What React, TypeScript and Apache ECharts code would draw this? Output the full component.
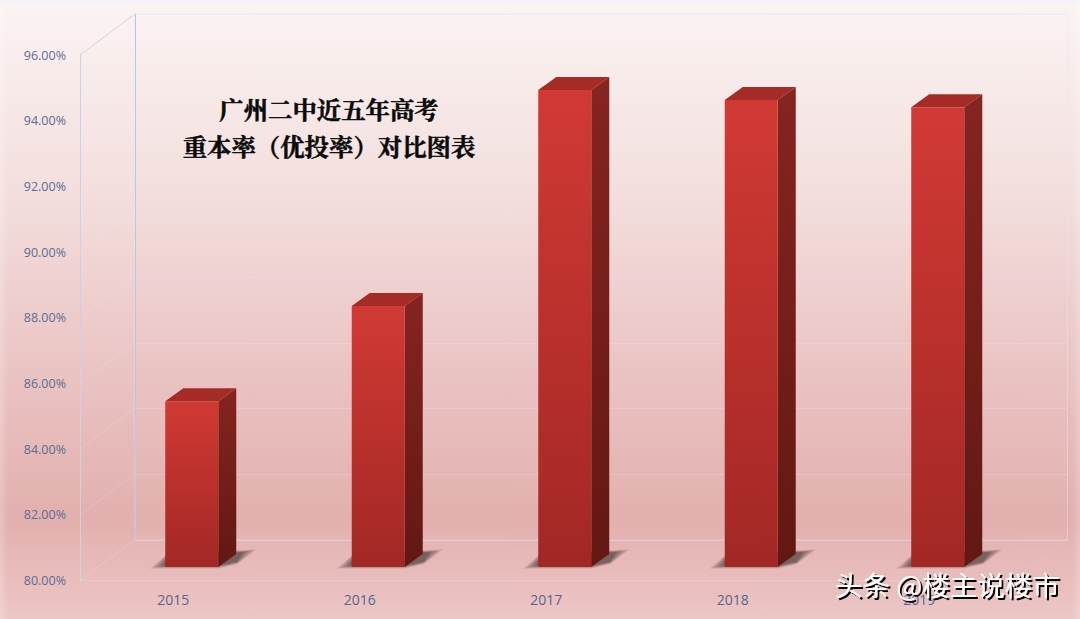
import React, { useEffect, useRef } from "react";
import * as echarts from "echarts";

const years = ["2015", "2016", "2017", "2018", "2019"];
const rates = [85.05, 87.95, 94.52, 94.22, 94.0];
const gridTicks = [80, 82, 84, 86, 88, 90, 92, 94, 96];
const titleText = "广州二中近五年高考\n重本率（优投率）对比图表";
const watermark = "头条 @楼主说楼市";

const W = 1080;
const H = 619;
const wallDX = 55;
const wallDY = 41;
const barDX = 18.5;
const barDY = 13.5;
const barW = 53;
const depthX = 18;
const depthY = 13;
const wallLine = "rgba(226,230,244,0.3)";

function grad(stops: [number, string][], horizontal = false) {
  return new echarts.graphic.LinearGradient(0, 0, horizontal ? 1 : 0, horizontal ? 0 : 1,
    stops.map(([offset, color]) => ({ offset, color })));
}

function shadowLayer(x0: number, x1: number, yB: number, inset: number, alpha: number) {
  return {
    type: "polygon",
    shape: {
      points: [
        [x0 - 15 + inset * 1.6, yB + 1.5 - inset * 0.35],
        [x0 + 2, yB - 13 + inset * 0.3],
        [x1 + 38 - inset * 1.6, yB - 17.5 + inset * 0.35],
        [x1 + 19, yB - 3 - inset * 0.3],
        [x1, yB + 1.5 - inset * 0.35],
      ],
    },
    style: { fill: `rgba(60,45,45,${alpha})` },
  };
}

function renderBar(params: any, api: any) {
  const top = api.coord([api.value(0), api.value(1)]);
  const base = api.coord([api.value(0), 80]);
  const x0 = top[0] + barDX - barW / 2;
  const x1 = x0 + barW;
  const yT = top[1] - barDY;
  const yB = base[1] - barDY;
  return {
    type: "group",
    children: [
      shadowLayer(x0, x1, yB, 0, 0.14),
      shadowLayer(x0, x1, yB, 2, 0.16),
      shadowLayer(x0, x1, yB, 4, 0.18),
      shadowLayer(x0, x1, yB, 6, 0.2),
      shadowLayer(x0, x1, yB, 8, 0.22),
      {
        type: "polygon",
        shape: { points: [[x1, yT], [x1 + depthX, yT - depthY], [x1 + depthX, yB - depthY], [x1, yB]] },
        style: { fill: grad([[0, "#862420"], [1, "#621813"]]) },
      },
      {
        type: "polygon",
        shape: { points: [[x0, yT], [x0 + depthX, yT - depthY], [x1 + depthX, yT - depthY], [x1, yT]] },
        style: { fill: "#a52b27" },
      },
      {
        type: "rect",
        shape: { x: x0, y: yT, width: barW, height: yB - yT },
        style: { fill: grad([[0, "#d13a34"], [0.5, "#ba302c"], [1, "#a22825"]]) },
      },
    ],
  };
}

function renderWall(params: any, api: any) {
  const cs = params.coordSys;
  const v = api.value(0);
  const y = api.coord([0, v])[1];
  const lines: any[] = [
    {
      type: "line",
      shape: { x1: cs.x, y1: y, x2: cs.x + wallDX, y2: y - wallDY },
      style: { stroke: v === 96 ? "#ccd6ec" : wallLine, lineWidth: 1 },
    },
  ];
  if (v === 80) {
    lines.push({
      type: "line",
      shape: { x1: cs.x + cs.width, y1: y, x2: cs.x + cs.width + wallDX, y2: y - wallDY },
      style: { stroke: "rgba(226,230,244,0.15)", lineWidth: 1 },
    });
  }
  return { type: "group", children: lines };
}

export default function App() {
  const ref = useRef<HTMLDivElement>(null);
  useEffect(() => {
    const chart = echarts.init(ref.current!, undefined, { renderer: "svg", width: W, height: H });
    chart.setOption({
      animation: false,
      backgroundColor: grad([
        [0, "#fbf4f3"],
        [0.32, "#f3dedd"],
        [0.62, "#e9c2c1"],
        [0.84, "#e2b0ae"],
        [1, "#edc6c6"],
      ]),
      title: {
        text: titleText,
        left: 324,
        top: 85,
        textAlign: "center",
        textStyle: {
          fontFamily: '"Noto Serif CJK SC", SimSun, serif',
          fontSize: 24.4,
          fontWeight: "bold",
          lineHeight: 37,
          color: "#0a0a0a",
          textBorderColor: "#0a0a0a",
          textBorderWidth: 0.5,
        },
      },
      grid: [
        { left: 80, top: 55, width: 932.5, height: 525.5 },
        { left: 135, top: 14, width: 932.5, height: 526, show: true, borderColor: "rgba(226,230,244,0.45)", borderWidth: 1, backgroundColor: "transparent" },
      ],
      xAxis: [
        {
          gridIndex: 0,
          type: "category",
          data: years,
          axisTick: { show: false },
          axisLine: { lineStyle: { color: "rgba(226,230,244,0.25)" } },
          axisLabel: { color: "#55678f", fontSize: 14, fontFamily: '"Open Sans"', margin: 12 },
        },
        { gridIndex: 1, type: "category", data: years, show: false },
      ],
      yAxis: [
        {
          gridIndex: 0,
          type: "value",
          min: 80,
          max: 96,
          interval: 2,
          splitLine: { show: false },
          axisTick: { show: false },
          axisLine: { show: true, lineStyle: { color: "#c8d3ea" } },
          axisLabel: {
            color: "#5c6d92",
            fontSize: 12.5,
            fontFamily: '"Open Sans"',
            margin: 14,
            padding: [4, 0, 0, 0],
            formatter: (v: number) => v.toFixed(2) + "%",
          },
        },
        {
          gridIndex: 1,
          type: "value",
          min: 80,
          max: 96,
          interval: 2,
          splitLine: { show: true, lineStyle: { color: wallLine, width: 1 } },
          axisTick: { show: false },
          axisLabel: { show: false },
          axisLine: { show: true, lineStyle: { color: "#b9c7e2" } },
        },
      ],
      series: [
        {
          type: "custom",
          name: "wall",
          xAxisIndex: 0,
          yAxisIndex: 0,
          silent: true,
          clip: false,
          z: 1,
          data: gridTicks.map((v) => [v]),
          encode: { y: 0 },
          renderItem: renderWall,
        },
        {
          type: "custom",
          name: "重本率",
          xAxisIndex: 0,
          yAxisIndex: 0,
          clip: false,
          z: 3,
          data: rates.map((v, i) => [i, v]),
          encode: { x: 0, y: 1 },
          renderItem: renderBar,
        },
      ],
      graphic: [
        {
          type: "rect",
          silent: true,
          z: 0,
          shape: { x: 0, y: 0, width: 8, height: H },
          style: { fill: grad([[0, "rgba(255,255,255,0.22)"], [1, "rgba(255,255,255,0)"]], true) },
        },
        {
          type: "rect",
          silent: true,
          z: 0,
          shape: { x: W - 8, y: 0, width: 8, height: H },
          style: { fill: grad([[0, "rgba(255,255,255,0)"], [1, "rgba(255,255,255,0.2)"]], true) },
        },
        {
          type: "rect",
          silent: true,
          z: 0,
          shape: { x: 0, y: 0, width: W, height: 6 },
          style: { fill: grad([[0, "rgba(240,240,252,0.7)"], [1, "rgba(240,240,252,0)"]]) },
        },
        {
          type: "text",
          z: 100,
          x: 835,
          y: 570,
          style: {
            text: watermark,
            fontFamily: '"Noto Sans CJK SC"',
            fontSize: 27.5,
            fill: "#ffffff",
            textShadowColor: "#000000",
            textShadowBlur: 1,
            textShadowOffsetX: 2,
            textShadowOffsetY: 2,
          },
        },
      ],
    });
    return () => chart.dispose();
  }, []);
  return <div ref={ref} style={{ position: "absolute", left: 0, top: 0, width: W, height: H }} />;
}
